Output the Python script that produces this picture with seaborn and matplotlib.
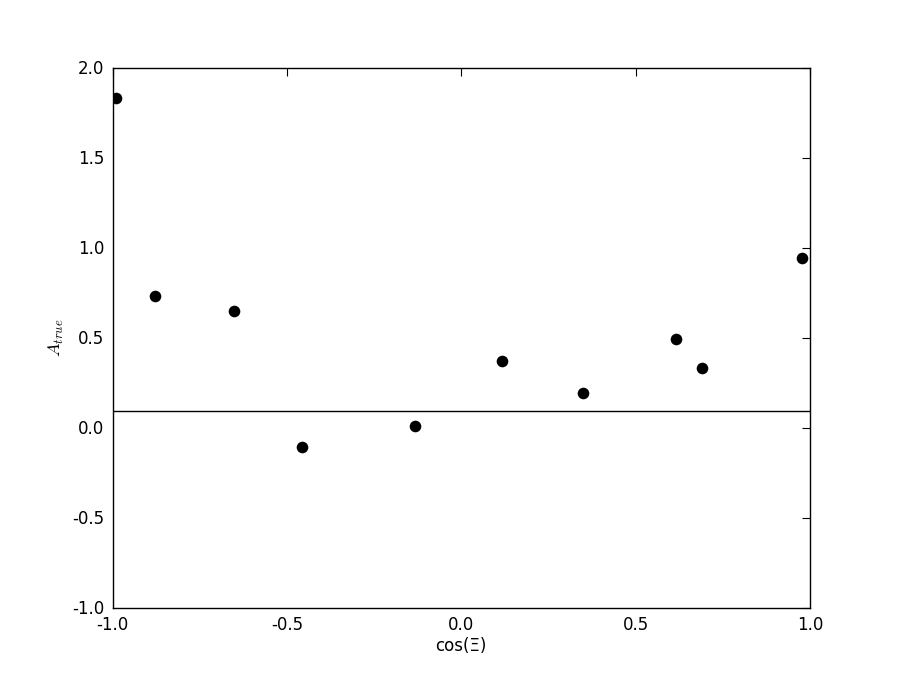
import matplotlib
matplotlib.use("Agg")
import matplotlib.pyplot as plt
import seaborn as sns
import pandas as pd

# values
cos_xi = [-0.991, -0.877, -0.653, -0.458, -0.133, 0.116, 0.349, 0.616, 0.690, 0.977]
a_true = [1.833, 0.733, 0.650, -0.106, 0.006, 0.372, 0.194, 0.494, 0.333, 0.939]
mean_level = 0.09

df = pd.DataFrame({"cos": cos_xi, "A": a_true})

sns.set_theme(style="white")
plt.rcParams["font.family"] = ["DejaVu Sans"]
plt.rcParams["mathtext.fontset"] = "cm"
plt.rcParams["axes.unicode_minus"] = False
plt.rcParams["text.color"] = "black"
plt.rcParams["axes.labelcolor"] = "black"
plt.rcParams["xtick.color"] = "black"
plt.rcParams["ytick.color"] = "black"

fig, ax = plt.subplots(figsize=(9, 6.75), dpi=100)
fig.subplots_adjust(left=0.125, right=0.9, bottom=0.1, top=0.9)

sns.scatterplot(data=df, x="cos", y="A", color="black", s=70, edgecolor="black",
                linewidth=0, ax=ax, zorder=3)
ax.axhline(mean_level, color="black", linewidth=1.0)

ax.set_xlim(-1, 1)
ax.set_ylim(-1, 2)
ax.set_xticks([-1.0, -0.5, 0.0, 0.5, 1.0])
ax.set_yticks([-1.0, -0.5, 0.0, 0.5, 1.0, 1.5, 2.0])
ax.tick_params(direction="in", length=6, width=0.8, color="black",
               labelsize=12, top=True, right=True, pad=6)
for sp in ax.spines.values():
    sp.set_color("black")
    sp.set_linewidth(1.0)

ax.set_xlabel("cos(Ξ)", fontsize=12, labelpad=2)
ax.set_ylabel("$A_{true}$", fontsize=13)

fig.savefig("out.png", dpi=100)
